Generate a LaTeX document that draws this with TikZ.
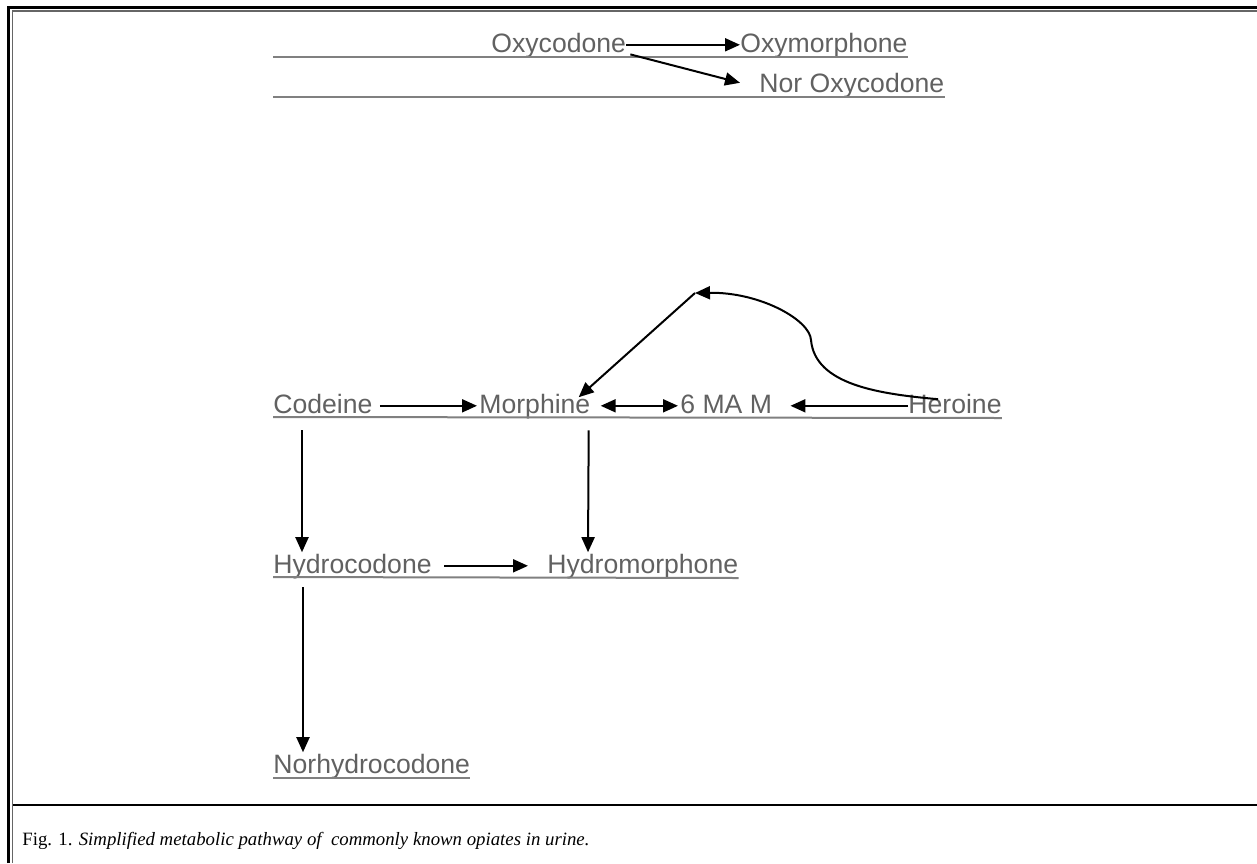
\documentclass[tikz,border=0pt]{standalone}
\usepackage{fontspec}
\setmainfont{Liberation Serif}
\newfontfamily\diagfont{Liberation Sans}
\usetikzlibrary{arrows.meta,calc}
\definecolor{textgray}{HTML}{616161}
\definecolor{linegray}{HTML}{808080}
\begin{document}
\begin{tikzpicture}[x=0.5pt, y=-0.5pt,
    drug/.style={anchor=base west, inner sep=0pt, text=textgray,
      text height=0.72em, text depth=0pt,
      font=\diagfont\fontsize{13.3}{16}\selectfont},
    arr/.style={line width=1pt, -{Triangle[length=7.5pt, width=6.5pt]}},
    biarr/.style={line width=1pt, {Triangle[length=7.5pt, width=6.5pt]}-{Triangle[length=7.5pt, width=6.5pt]}},
    uline/.style={line width=1pt, draw=linegray}]
  \def\xleft{273}
  \useasboundingbox (0,0) rectangle (1257,863);
  % frame
  \draw [line width=1.5pt] (8.5,863) -- (8.5,7) -- (1257,7);
  \draw [line width=0.75pt, black!60] (12.5,863) -- (12.5,11) -- (1257,11);
  \draw [line width=1.25pt] (13,805) -- (1257,805);
  % compounds
  \node [drug] (oxycodone) at (491,52) {Oxycodone};
  \node [drug] (oxymorphone) at (740,52) {Oxymorphone};
  \node [drug] (noroxy) at (759,92) {Nor Oxycodone};
  \node [drug] (codeine) at (\xleft,413) {Codeine};
  \node [drug] (morphine) at (479,413) {Morphine};
  \node [drug] (mam) at (680,413) {6 MA M};
  \node [drug] (heroine) at (908,413) {Heroine};
  \node [drug] (hydrocodone) at (\xleft,573) {Hydrocodone};
  \node [drug] (hydromorphone) at (547,573) {Hydromorphone};
  \node [drug] (norhydro) at (\xleft,773) {Norhydrocodone};
  \coordinate (peak) at (695,293);
  % underlined rows
  \foreach \n/\y in {oxymorphone/57, noroxy/97, heroine/417, hydromorphone/577, norhydro/778}
  \draw [uline] (\xleft,\y) -- ($(\n.base east)+(0,5)$);
  % pathways
  \draw [arr] (oxycodone.east) -- (oxymorphone.west);
  \draw [arr] ($(oxycodone.south east)+(4,2)$) -- ($(noroxy.west)+(-19,-2)$);
  \draw [arr] ($(codeine.east)+(7,0)$) -- ($(morphine.west)+(-2,0)$);
  \draw [biarr] ($(morphine.east)+(10,0)$) -- ($(mam.west)+(-2,0)$);
  \draw [arr] (heroine.west) -- ($(mam.east)+(18,0)$);
  \draw [arr] ($(heroine.north west)+(30,1)$) .. controls (880,394) and (815,385) .. (811,340)
    .. controls (810,320) and (760,292) .. (peak);
  \draw [arr] (peak) -- ($(morphine.north east)+(-12,-1)$);
  \draw [arr] ($(codeine.south west)+(29,17)$) -- ($(hydrocodone.north west)+(29,-6)$);
  \draw [arr] ($(morphine.south east)+(-2,17)$) -- ($(hydromorphone.north west)+(41,-6)$);
  \draw [arr] ($(hydrocodone.east)+(12,0)$) -- ($(hydromorphone.west)+(-19,0)$);
  \draw [arr] ($(hydrocodone.south west)+(30,14)$) -- ($(norhydro.north west)+(30,-6)$);
  % caption
  \node [anchor=base west, inner sep=0pt, font=\fontsize{9.4}{11}\selectfont] (caption) at (22,845)
    {Fig. 1. \textit{Simplified metabolic pathway of\ \ commonly known opiates in urine.}};
\end{tikzpicture}
\end{document}
